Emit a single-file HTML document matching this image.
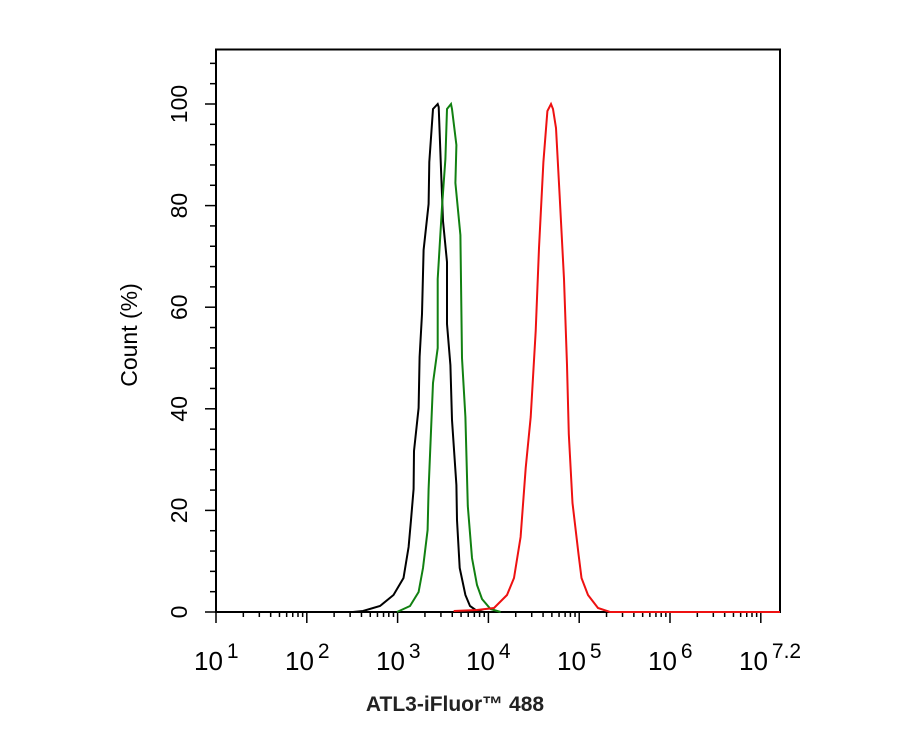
<!DOCTYPE html>
<html><head><meta charset="utf-8"><style>
html,body{margin:0;padding:0;background:#fff;}
svg{display:block;font-family:"Liberation Sans",Arial,sans-serif;}
</style></head><body>
<svg width="913" height="730" viewBox="0 0 913 730" xmlns="http://www.w3.org/2000/svg">
<g id="ticks" stroke="#000" stroke-width="1.5"></g>
<rect x="216" y="49.5" width="564" height="562.5" fill="none" stroke="#000" stroke-width="2"/>
<polyline fill="none" stroke="#000" stroke-width="2" points="216,612 353,612 363,611 380,606 393.5,595 403.5,578 408.6,547 411,520 413.6,489 414,451 418.6,408 419.6,357 422,314 423.6,250 428.6,204 429.3,162 433,109 437.7,104 438.7,107 441,169 443,221 447,262 447,324 450.4,365 452,420 456.4,485 457,520 459.7,568 465.4,595 470,606 477,611 484,612"/>
<polyline fill="none" stroke="#118011" stroke-width="2" points="397,612 410,606 418.6,592 423,568 427.6,530 428.6,489 433,383 437.7,348 437.7,279 442,207 445.4,159 447,109 451,104 452,109 456.4,145 455.4,183 460.4,235 462,358 465.4,417 467.8,506 472,558 477,585 482,599 490.5,609 500.6,612"/>
<polyline fill="none" stroke="#ee1111" stroke-width="2" points="453.7,611 477,610 494,608 507,595 514,578 520.6,537 525.7,468 530.7,417 535.7,331 539,248 543.4,162 547.4,111 551,104 553,109 556,128 559.5,193 564,279 567,365 568.8,434 572.5,503 578.5,554 581.5,578 588,595 598,608 610,612 780,612"/>
<g font-size="23" text-anchor="middle" fill="#000">
<text transform="translate(187,612) rotate(-90)">0</text>
<text transform="translate(187,510.4) rotate(-90)">20</text>
<text transform="translate(187,408.8) rotate(-90)">40</text>
<text transform="translate(187,307.2) rotate(-90)">60</text>
<text transform="translate(187,205.6) rotate(-90)">80</text>
<text transform="translate(187,104) rotate(-90)">100</text>
<text transform="translate(137,335) rotate(-90)">Count  (%)</text>
</g>
<g font-size="26" fill="#000">
<text x="194" y="670">10<tspan dx="4" dy="-12" font-size="21">1</tspan></text>
<text x="285" y="670">10<tspan dx="4" dy="-12" font-size="21">2</tspan></text>
<text x="376" y="670">10<tspan dx="4" dy="-12" font-size="21">3</tspan></text>
<text x="466" y="670">10<tspan dx="4" dy="-12" font-size="21">4</tspan></text>
<text x="557" y="670">10<tspan dx="4" dy="-12" font-size="21">5</tspan></text>
<text x="648" y="670">10<tspan dx="4" dy="-12" font-size="21">6</tspan></text>
<text x="739" y="670">10<tspan dx="4" dy="-12" font-size="21">7.2</tspan></text>
</g>
<text x="455" y="711" font-size="21" text-anchor="middle" fill="#222" font-weight="bold">ATL3-iFluor™ 488</text>
<script>
var ns="http://www.w3.org/2000/svg",g=document.getElementById('ticks');
function L(x1,y1,x2,y2){var l=document.createElementNS(ns,'line');l.setAttribute('x1',x1);l.setAttribute('y1',y1);l.setAttribute('x2',x2);l.setAttribute('y2',y2);g.appendChild(l);}
for(var v=0;v<=108;v+=4){var y=612-v*5.08;if(v%20==0)L(205,y,216,y);else L(210,y,216,y);}
var d=90.8,x0=216;
for(var e=1;e<=7.2;e++){var x=x0+(e-1)*d;L(x,612,x,623);for(var k=2;k<10;k++){var xx=x+Math.log10(k)*d;if(xx<780)L(xx,612,xx,617);}}
</script>
</svg>
</body></html>
